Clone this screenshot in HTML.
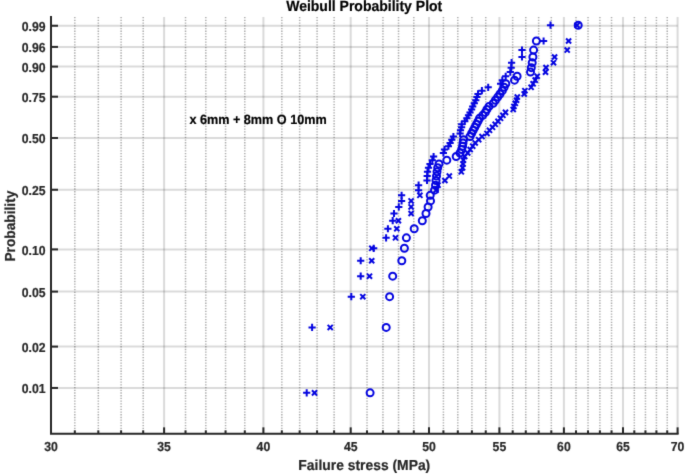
<!DOCTYPE html>
<html><head><meta charset="utf-8"><style>
html,body{margin:0;padding:0;background:#fff;}
body{width:685px;height:474px;overflow:hidden;}
svg{display:block;}
text{font-family:"Liberation Sans",sans-serif;font-weight:bold;text-rendering:geometricPrecision;}
.t{font-size:13.0px;fill:#262626;stroke:#262626;stroke-width:0.2px;}
.l{font-size:14.5px;fill:#262626;stroke:#262626;stroke-width:0.2px;}
.ti{font-size:14.9px;fill:#000;stroke:#000;stroke-width:0.2px;}
.lg{font-size:13.45px;fill:#000;stroke:#000;stroke-width:0.2px;}
</style></head><body>
<svg width="685" height="474" viewBox="0 0 685 474">
<defs><filter id="bl" x="0" y="0" width="685" height="474" filterUnits="userSpaceOnUse" color-interpolation-filters="sRGB"><feConvolveMatrix order="3" kernelMatrix="0.01134 0.08382 0.01134 0.08382 0.61935 0.08382 0.01134 0.08382 0.01134" divisor="1" edgeMode="duplicate"/></filter></defs>
<g filter="url(#bl)">
<rect width="685" height="474" fill="#fff"/>
<line x1="74.81" y1="17.0" x2="74.81" y2="433.85" stroke="rgba(38,38,38,0.38)" stroke-width="1.5" stroke-dasharray="1.3 1.42"/>
<line x1="98.32" y1="17.0" x2="98.32" y2="433.85" stroke="rgba(38,38,38,0.38)" stroke-width="1.5" stroke-dasharray="1.3 1.42"/>
<line x1="121.10" y1="17.0" x2="121.10" y2="433.85" stroke="rgba(38,38,38,0.38)" stroke-width="1.5" stroke-dasharray="1.3 1.42"/>
<line x1="143.20" y1="17.0" x2="143.20" y2="433.85" stroke="rgba(38,38,38,0.38)" stroke-width="1.5" stroke-dasharray="1.3 1.42"/>
<line x1="185.52" y1="17.0" x2="185.52" y2="433.85" stroke="rgba(38,38,38,0.38)" stroke-width="1.5" stroke-dasharray="1.3 1.42"/>
<line x1="205.81" y1="17.0" x2="205.81" y2="433.85" stroke="rgba(38,38,38,0.38)" stroke-width="1.5" stroke-dasharray="1.3 1.42"/>
<line x1="225.56" y1="17.0" x2="225.56" y2="433.85" stroke="rgba(38,38,38,0.38)" stroke-width="1.5" stroke-dasharray="1.3 1.42"/>
<line x1="244.79" y1="17.0" x2="244.79" y2="433.85" stroke="rgba(38,38,38,0.38)" stroke-width="1.5" stroke-dasharray="1.3 1.42"/>
<line x1="281.82" y1="17.0" x2="281.82" y2="433.85" stroke="rgba(38,38,38,0.38)" stroke-width="1.5" stroke-dasharray="1.3 1.42"/>
<line x1="299.66" y1="17.0" x2="299.66" y2="433.85" stroke="rgba(38,38,38,0.38)" stroke-width="1.5" stroke-dasharray="1.3 1.42"/>
<line x1="317.08" y1="17.0" x2="317.08" y2="433.85" stroke="rgba(38,38,38,0.38)" stroke-width="1.5" stroke-dasharray="1.3 1.42"/>
<line x1="334.11" y1="17.0" x2="334.11" y2="433.85" stroke="rgba(38,38,38,0.38)" stroke-width="1.5" stroke-dasharray="1.3 1.42"/>
<line x1="367.02" y1="17.0" x2="367.02" y2="433.85" stroke="rgba(38,38,38,0.38)" stroke-width="1.5" stroke-dasharray="1.3 1.42"/>
<line x1="382.94" y1="17.0" x2="382.94" y2="433.85" stroke="rgba(38,38,38,0.38)" stroke-width="1.5" stroke-dasharray="1.3 1.42"/>
<line x1="398.53" y1="17.0" x2="398.53" y2="433.85" stroke="rgba(38,38,38,0.38)" stroke-width="1.5" stroke-dasharray="1.3 1.42"/>
<line x1="413.80" y1="17.0" x2="413.80" y2="433.85" stroke="rgba(38,38,38,0.38)" stroke-width="1.5" stroke-dasharray="1.3 1.42"/>
<line x1="443.42" y1="17.0" x2="443.42" y2="433.85" stroke="rgba(38,38,38,0.38)" stroke-width="1.5" stroke-dasharray="1.3 1.42"/>
<line x1="457.80" y1="17.0" x2="457.80" y2="433.85" stroke="rgba(38,38,38,0.38)" stroke-width="1.5" stroke-dasharray="1.3 1.42"/>
<line x1="471.90" y1="17.0" x2="471.90" y2="433.85" stroke="rgba(38,38,38,0.38)" stroke-width="1.5" stroke-dasharray="1.3 1.42"/>
<line x1="485.74" y1="17.0" x2="485.74" y2="433.85" stroke="rgba(38,38,38,0.38)" stroke-width="1.5" stroke-dasharray="1.3 1.42"/>
<line x1="512.67" y1="17.0" x2="512.67" y2="433.85" stroke="rgba(38,38,38,0.38)" stroke-width="1.5" stroke-dasharray="1.3 1.42"/>
<line x1="525.77" y1="17.0" x2="525.77" y2="433.85" stroke="rgba(38,38,38,0.38)" stroke-width="1.5" stroke-dasharray="1.3 1.42"/>
<line x1="538.65" y1="17.0" x2="538.65" y2="433.85" stroke="rgba(38,38,38,0.38)" stroke-width="1.5" stroke-dasharray="1.3 1.42"/>
<line x1="551.31" y1="17.0" x2="551.31" y2="433.85" stroke="rgba(38,38,38,0.38)" stroke-width="1.5" stroke-dasharray="1.3 1.42"/>
<line x1="575.99" y1="17.0" x2="575.99" y2="433.85" stroke="rgba(38,38,38,0.38)" stroke-width="1.5" stroke-dasharray="1.3 1.42"/>
<line x1="588.03" y1="17.0" x2="588.03" y2="433.85" stroke="rgba(38,38,38,0.38)" stroke-width="1.5" stroke-dasharray="1.3 1.42"/>
<line x1="599.88" y1="17.0" x2="599.88" y2="433.85" stroke="rgba(38,38,38,0.38)" stroke-width="1.5" stroke-dasharray="1.3 1.42"/>
<line x1="611.54" y1="17.0" x2="611.54" y2="433.85" stroke="rgba(38,38,38,0.38)" stroke-width="1.5" stroke-dasharray="1.3 1.42"/>
<line x1="634.32" y1="17.0" x2="634.32" y2="433.85" stroke="rgba(38,38,38,0.38)" stroke-width="1.5" stroke-dasharray="1.3 1.42"/>
<line x1="645.45" y1="17.0" x2="645.45" y2="433.85" stroke="rgba(38,38,38,0.38)" stroke-width="1.5" stroke-dasharray="1.3 1.42"/>
<line x1="656.42" y1="17.0" x2="656.42" y2="433.85" stroke="rgba(38,38,38,0.38)" stroke-width="1.5" stroke-dasharray="1.3 1.42"/>
<line x1="667.23" y1="17.0" x2="667.23" y2="433.85" stroke="rgba(38,38,38,0.38)" stroke-width="1.5" stroke-dasharray="1.3 1.42"/>
<line x1="164.10" y1="17.0" x2="164.10" y2="433.85" stroke="rgba(38,38,38,0.17)" stroke-width="2.0"/>
<line x1="263.40" y1="17.0" x2="263.40" y2="433.85" stroke="rgba(38,38,38,0.17)" stroke-width="2.0"/>
<line x1="350.70" y1="17.0" x2="350.70" y2="433.85" stroke="rgba(38,38,38,0.17)" stroke-width="2.0"/>
<line x1="429.00" y1="17.0" x2="429.00" y2="433.85" stroke="rgba(38,38,38,0.17)" stroke-width="2.0"/>
<line x1="499.40" y1="17.0" x2="499.40" y2="433.85" stroke="rgba(38,38,38,0.17)" stroke-width="2.0"/>
<line x1="563.90" y1="17.0" x2="563.90" y2="433.85" stroke="rgba(38,38,38,0.17)" stroke-width="2.0"/>
<line x1="623.00" y1="17.0" x2="623.00" y2="433.85" stroke="rgba(38,38,38,0.17)" stroke-width="2.0"/>
<line x1="677.60" y1="17.0" x2="677.60" y2="433.85" stroke="rgba(38,38,38,0.17)" stroke-width="2.0"/>
<line x1="51.0" y1="25.75" x2="677.6" y2="25.75" stroke="rgba(38,38,38,0.17)" stroke-width="2.0"/>
<line x1="51.0" y1="46.90" x2="677.6" y2="46.90" stroke="rgba(38,38,38,0.17)" stroke-width="2.0"/>
<line x1="51.0" y1="66.60" x2="677.6" y2="66.60" stroke="rgba(38,38,38,0.17)" stroke-width="2.0"/>
<line x1="51.0" y1="96.70" x2="677.6" y2="96.70" stroke="rgba(38,38,38,0.17)" stroke-width="2.0"/>
<line x1="51.0" y1="138.00" x2="677.6" y2="138.00" stroke="rgba(38,38,38,0.17)" stroke-width="2.0"/>
<line x1="51.0" y1="189.75" x2="677.6" y2="189.75" stroke="rgba(38,38,38,0.17)" stroke-width="2.0"/>
<line x1="51.0" y1="249.40" x2="677.6" y2="249.40" stroke="rgba(38,38,38,0.17)" stroke-width="2.0"/>
<line x1="51.0" y1="291.60" x2="677.6" y2="291.60" stroke="rgba(38,38,38,0.17)" stroke-width="2.0"/>
<line x1="51.0" y1="346.60" x2="677.6" y2="346.60" stroke="rgba(38,38,38,0.17)" stroke-width="2.0"/>
<line x1="51.0" y1="387.95" x2="677.6" y2="387.95" stroke="rgba(38,38,38,0.17)" stroke-width="2.0"/>
<g stroke="#0505e0" stroke-width="2" fill="none">
<path d="M311.95 390.32L317.05 395.42M311.95 395.42L317.05 390.32"/>
<path d="M327.65 324.84L332.75 329.94M327.65 329.94L332.75 324.84"/>
<path d="M360.25 294.09L365.35 299.19M360.25 299.19L365.35 294.09"/>
<path d="M366.95 273.63L372.05 278.73M366.95 278.73L372.05 273.63"/>
<path d="M369.15 258.20L374.25 263.30M369.15 263.30L374.25 258.20"/>
<path d="M369.25 245.74L374.35 250.84M369.25 250.84L374.35 245.74"/>
<path d="M392.95 235.27L398.05 240.37M392.95 240.37L398.05 235.27"/>
<path d="M394.25 226.20L399.35 231.30M394.25 231.30L399.35 226.20"/>
<path d="M395.85 218.17L400.95 223.27M395.85 223.27L400.95 218.17"/>
<path d="M408.55 210.97L413.65 216.07M408.55 216.07L413.65 210.97"/>
<path d="M408.55 204.40L413.65 209.50M408.55 209.50L413.65 204.40"/>
<path d="M408.55 198.36L413.65 203.46M408.55 203.46L413.65 198.36"/>
<path d="M417.35 192.76L422.45 197.86M417.35 197.86L422.45 192.76"/>
<path d="M433.45 187.60L438.55 192.70M433.45 192.70L438.55 187.60"/>
<path d="M435.45 182.60L440.55 187.70M435.45 187.70L440.55 182.60"/>
<path d="M442.35 177.94L447.45 183.04M442.35 183.04L447.45 177.94"/>
<path d="M446.75 173.52L451.85 178.62M446.75 178.62L451.85 173.52"/>
<path d="M458.75 169.29L463.85 174.39M458.75 174.39L463.85 169.29"/>
<path d="M460.05 165.24L465.15 170.34M460.05 170.34L465.15 165.24"/>
<path d="M460.45 161.35L465.55 166.45M460.45 166.45L465.55 161.35"/>
<path d="M460.85 157.59L465.95 162.69M460.85 162.69L465.95 157.59"/>
<path d="M462.15 153.95L467.25 159.05M462.15 159.05L467.25 153.95"/>
<path d="M465.15 150.42L470.25 155.52M465.15 155.52L470.25 150.42"/>
<path d="M467.65 146.99L472.75 152.09M467.65 152.09L472.75 146.99"/>
<path d="M470.15 143.64L475.25 148.74M470.15 148.74L475.25 143.64"/>
<path d="M472.65 140.36L477.75 145.46M472.65 145.46L477.75 140.36"/>
<path d="M476.15 137.14L481.25 142.24M476.15 142.24L481.25 137.14"/>
<path d="M479.45 133.99L484.55 139.09M479.45 139.09L484.55 133.99"/>
<path d="M484.45 130.88L489.55 135.98M484.45 135.98L489.55 130.88"/>
<path d="M486.95 127.81L492.05 132.91M486.95 132.91L492.05 127.81"/>
<path d="M489.95 124.77L495.05 129.87M489.95 129.87L495.05 124.77"/>
<path d="M492.65 121.76L497.75 126.86M492.65 126.86L497.75 121.76"/>
<path d="M495.45 118.77L500.55 123.87M495.45 123.87L500.55 118.77"/>
<path d="M497.95 115.79L503.05 120.89M497.95 120.89L503.05 115.79"/>
<path d="M500.35 112.81L505.45 117.91M500.35 117.91L505.45 112.81"/>
<path d="M502.95 109.83L508.05 114.93M502.95 114.93L508.05 109.83"/>
<path d="M510.65 106.85L515.75 111.95M510.65 111.95L515.75 106.85"/>
<path d="M511.35 103.84L516.45 108.94M511.35 108.94L516.45 103.84"/>
<path d="M512.75 100.80L517.85 105.90M512.75 105.90L517.85 100.80"/>
<path d="M514.05 97.72L519.15 102.82M514.05 102.82L519.15 97.72"/>
<path d="M514.75 94.55L519.85 99.65M514.75 99.65L519.85 94.55"/>
<path d="M521.65 91.40L526.75 96.50M521.65 96.50L526.75 91.40"/>
<path d="M522.35 88.13L527.45 93.23M522.35 93.23L527.45 88.13"/>
<path d="M528.55 84.75L533.65 89.85M528.55 89.85L533.65 84.75"/>
<path d="M530.55 81.25L535.65 86.35M530.55 86.35L535.65 81.25"/>
<path d="M532.65 77.58L537.75 82.68M532.65 82.68L537.75 77.58"/>
<path d="M534.65 73.71L539.75 78.81M534.65 78.81L539.75 73.71"/>
<path d="M542.95 69.57L548.05 74.67M542.95 74.67L548.05 69.57"/>
<path d="M543.45 65.08L548.55 70.18M543.45 70.18L548.55 65.08"/>
<path d="M550.95 60.11L556.05 65.21M550.95 65.21L556.05 60.11"/>
<path d="M552.05 54.42L557.15 59.52M552.05 59.52L557.15 54.42"/>
<path d="M564.65 47.56L569.75 52.66M564.65 52.66L569.75 47.56"/>
<path d="M566.05 38.47L571.15 43.57M566.05 43.57L571.15 38.47"/>
<path d="M574.45 22.67L579.55 27.77M574.45 27.77L579.55 22.67"/>
<path d="M303.10 392.87H310.30M306.70 389.27V396.47"/>
<path d="M308.50 327.39H315.70M312.10 323.79V330.99"/>
<path d="M347.70 296.64H354.90M351.30 293.04V300.24"/>
<path d="M357.10 276.18H364.30M360.70 272.58V279.78"/>
<path d="M357.10 260.75H364.30M360.70 257.15V264.35"/>
<path d="M370.10 248.29H377.30M373.70 244.69V251.89"/>
<path d="M382.50 237.82H389.70M386.10 234.22V241.42"/>
<path d="M384.30 228.75H391.50M387.90 225.15V232.35"/>
<path d="M389.10 220.72H396.30M392.70 217.12V224.32"/>
<path d="M390.40 213.52H397.60M394.00 209.92V217.12"/>
<path d="M395.20 206.95H402.40M398.80 203.35V210.55"/>
<path d="M398.00 200.91H405.20M401.60 197.31V204.51"/>
<path d="M398.00 195.31H405.20M401.60 191.71V198.91"/>
<path d="M415.00 190.15H422.20M418.60 186.55V193.75"/>
<path d="M415.00 185.15H422.20M418.60 181.55V188.75"/>
<path d="M423.40 180.49H430.60M427.00 176.89V184.09"/>
<path d="M423.60 176.07H430.80M427.20 172.47V179.67"/>
<path d="M423.90 171.84H431.10M427.50 168.24V175.44"/>
<path d="M424.90 167.79H432.10M428.50 164.19V171.39"/>
<path d="M426.40 163.90H433.60M430.00 160.30V167.50"/>
<path d="M428.70 160.14H435.90M432.30 156.54V163.74"/>
<path d="M430.00 156.50H437.20M433.60 152.90V160.10"/>
<path d="M439.80 152.97H447.00M443.40 149.37V156.57"/>
<path d="M440.90 149.54H448.10M444.50 145.94V153.14"/>
<path d="M444.80 146.19H452.00M448.40 142.59V149.79"/>
<path d="M446.50 142.91H453.70M450.10 139.31V146.51"/>
<path d="M448.20 139.69H455.40M451.80 136.09V143.29"/>
<path d="M449.80 136.54H457.00M453.40 132.94V140.14"/>
<path d="M456.50 133.43H463.70M460.10 129.83V137.03"/>
<path d="M456.90 130.36H464.10M460.50 126.76V133.96"/>
<path d="M458.00 127.32H465.20M461.60 123.72V130.92"/>
<path d="M458.10 124.31H465.30M461.70 120.71V127.91"/>
<path d="M461.20 121.32H468.40M464.80 117.72V124.92"/>
<path d="M463.30 118.34H470.50M466.90 114.74V121.94"/>
<path d="M464.90 115.36H472.10M468.50 111.76V118.96"/>
<path d="M466.40 112.38H473.60M470.00 108.78V115.98"/>
<path d="M468.00 109.40H475.20M471.60 105.80V113.00"/>
<path d="M469.10 106.39H476.30M472.70 102.79V109.99"/>
<path d="M470.70 103.35H477.90M474.30 99.75V106.95"/>
<path d="M472.20 100.27H479.40M475.80 96.67V103.87"/>
<path d="M473.30 97.10H480.50M476.90 93.50V100.70"/>
<path d="M474.40 93.95H481.60M478.00 90.35V97.55"/>
<path d="M478.30 90.68H485.50M481.90 87.08V94.28"/>
<path d="M484.60 87.30H491.80M488.20 83.70V90.90"/>
<path d="M497.00 83.80H504.20M500.60 80.20V87.40"/>
<path d="M498.70 80.13H505.90M502.30 76.53V83.73"/>
<path d="M502.10 76.26H509.30M505.70 72.66V79.86"/>
<path d="M506.70 72.12H513.90M510.30 68.52V75.72"/>
<path d="M507.60 67.63H514.80M511.20 64.03V71.23"/>
<path d="M508.00 62.66H515.20M511.60 59.06V66.26"/>
<path d="M518.40 56.97H525.60M522.00 53.37V60.57"/>
<path d="M518.40 50.11H525.60M522.00 46.51V53.71"/>
<path d="M540.00 41.02H547.20M543.60 37.42V44.62"/>
<path d="M546.90 25.22H554.10M550.50 21.62V28.82"/>
<circle cx="370.10" cy="392.87" r="3.5"/>
<circle cx="386.20" cy="327.39" r="3.5"/>
<circle cx="389.60" cy="296.64" r="3.5"/>
<circle cx="392.70" cy="276.18" r="3.5"/>
<circle cx="401.80" cy="260.75" r="3.5"/>
<circle cx="404.40" cy="248.29" r="3.5"/>
<circle cx="406.40" cy="237.82" r="3.5"/>
<circle cx="414.20" cy="228.75" r="3.5"/>
<circle cx="422.30" cy="220.72" r="3.5"/>
<circle cx="426.00" cy="213.52" r="3.5"/>
<circle cx="428.10" cy="206.95" r="3.5"/>
<circle cx="430.50" cy="200.91" r="3.5"/>
<circle cx="430.20" cy="195.31" r="3.5"/>
<circle cx="434.50" cy="190.15" r="3.5"/>
<circle cx="435.50" cy="185.15" r="3.5"/>
<circle cx="436.00" cy="180.49" r="3.5"/>
<circle cx="436.50" cy="176.07" r="3.5"/>
<circle cx="437.00" cy="171.84" r="3.5"/>
<circle cx="437.70" cy="167.79" r="3.5"/>
<circle cx="439.00" cy="163.90" r="3.5"/>
<circle cx="446.80" cy="160.14" r="3.5"/>
<circle cx="456.20" cy="156.50" r="3.5"/>
<circle cx="460.00" cy="152.97" r="3.5"/>
<circle cx="461.70" cy="149.54" r="3.5"/>
<circle cx="462.60" cy="146.19" r="3.5"/>
<circle cx="463.00" cy="142.91" r="3.5"/>
<circle cx="463.50" cy="139.69" r="3.5"/>
<circle cx="470.00" cy="136.54" r="3.5"/>
<circle cx="471.60" cy="133.43" r="3.5"/>
<circle cx="473.20" cy="130.36" r="3.5"/>
<circle cx="474.80" cy="127.32" r="3.5"/>
<circle cx="476.40" cy="124.31" r="3.5"/>
<circle cx="478.00" cy="121.32" r="3.5"/>
<circle cx="479.50" cy="118.34" r="3.5"/>
<circle cx="482.70" cy="115.36" r="3.5"/>
<circle cx="485.30" cy="112.38" r="3.5"/>
<circle cx="486.90" cy="109.40" r="3.5"/>
<circle cx="489.00" cy="106.39" r="3.5"/>
<circle cx="493.20" cy="103.35" r="3.5"/>
<circle cx="495.40" cy="100.27" r="3.5"/>
<circle cx="497.70" cy="97.10" r="3.5"/>
<circle cx="500.00" cy="93.95" r="3.5"/>
<circle cx="502.30" cy="90.68" r="3.5"/>
<circle cx="504.10" cy="87.30" r="3.5"/>
<circle cx="505.80" cy="83.80" r="3.5"/>
<circle cx="514.50" cy="80.13" r="3.5"/>
<circle cx="517.10" cy="76.26" r="3.5"/>
<circle cx="530.50" cy="72.12" r="3.5"/>
<circle cx="531.30" cy="67.63" r="3.5"/>
<circle cx="532.20" cy="62.66" r="3.5"/>
<circle cx="532.90" cy="56.97" r="3.5"/>
<circle cx="533.60" cy="50.11" r="3.5"/>
<circle cx="536.40" cy="41.02" r="3.5"/>
<circle cx="578.20" cy="25.22" r="3.5"/>
</g>
<path d="M51.0 17.0V433.85H677.6" stroke="#262626" stroke-width="2" fill="none" stroke-linecap="square"/>
<line x1="51.0" y1="25.75" x2="58.0" y2="25.75" stroke="#262626" stroke-width="2"/>
<line x1="51.0" y1="46.90" x2="58.0" y2="46.90" stroke="#262626" stroke-width="2"/>
<line x1="51.0" y1="66.60" x2="58.0" y2="66.60" stroke="#262626" stroke-width="2"/>
<line x1="51.0" y1="96.70" x2="58.0" y2="96.70" stroke="#262626" stroke-width="2"/>
<line x1="51.0" y1="138.00" x2="58.0" y2="138.00" stroke="#262626" stroke-width="2"/>
<line x1="51.0" y1="189.75" x2="58.0" y2="189.75" stroke="#262626" stroke-width="2"/>
<line x1="51.0" y1="249.40" x2="58.0" y2="249.40" stroke="#262626" stroke-width="2"/>
<line x1="51.0" y1="291.60" x2="58.0" y2="291.60" stroke="#262626" stroke-width="2"/>
<line x1="51.0" y1="346.60" x2="58.0" y2="346.60" stroke="#262626" stroke-width="2"/>
<line x1="51.0" y1="387.95" x2="58.0" y2="387.95" stroke="#262626" stroke-width="2"/>
<line x1="74.81" y1="433.85" x2="74.81" y2="430.35" stroke="#262626" stroke-width="2"/>
<line x1="98.32" y1="433.85" x2="98.32" y2="430.35" stroke="#262626" stroke-width="2"/>
<line x1="121.10" y1="433.85" x2="121.10" y2="430.35" stroke="#262626" stroke-width="2"/>
<line x1="143.20" y1="433.85" x2="143.20" y2="430.35" stroke="#262626" stroke-width="2"/>
<line x1="164.10" y1="433.85" x2="164.10" y2="427.35" stroke="#262626" stroke-width="2"/>
<line x1="185.52" y1="433.85" x2="185.52" y2="430.35" stroke="#262626" stroke-width="2"/>
<line x1="205.81" y1="433.85" x2="205.81" y2="430.35" stroke="#262626" stroke-width="2"/>
<line x1="225.56" y1="433.85" x2="225.56" y2="430.35" stroke="#262626" stroke-width="2"/>
<line x1="244.79" y1="433.85" x2="244.79" y2="430.35" stroke="#262626" stroke-width="2"/>
<line x1="263.40" y1="433.85" x2="263.40" y2="427.35" stroke="#262626" stroke-width="2"/>
<line x1="281.82" y1="433.85" x2="281.82" y2="430.35" stroke="#262626" stroke-width="2"/>
<line x1="299.66" y1="433.85" x2="299.66" y2="430.35" stroke="#262626" stroke-width="2"/>
<line x1="317.08" y1="433.85" x2="317.08" y2="430.35" stroke="#262626" stroke-width="2"/>
<line x1="334.11" y1="433.85" x2="334.11" y2="430.35" stroke="#262626" stroke-width="2"/>
<line x1="350.70" y1="433.85" x2="350.70" y2="427.35" stroke="#262626" stroke-width="2"/>
<line x1="367.02" y1="433.85" x2="367.02" y2="430.35" stroke="#262626" stroke-width="2"/>
<line x1="382.94" y1="433.85" x2="382.94" y2="430.35" stroke="#262626" stroke-width="2"/>
<line x1="398.53" y1="433.85" x2="398.53" y2="430.35" stroke="#262626" stroke-width="2"/>
<line x1="413.80" y1="433.85" x2="413.80" y2="430.35" stroke="#262626" stroke-width="2"/>
<line x1="429.00" y1="433.85" x2="429.00" y2="427.35" stroke="#262626" stroke-width="2"/>
<line x1="443.42" y1="433.85" x2="443.42" y2="430.35" stroke="#262626" stroke-width="2"/>
<line x1="457.80" y1="433.85" x2="457.80" y2="430.35" stroke="#262626" stroke-width="2"/>
<line x1="471.90" y1="433.85" x2="471.90" y2="430.35" stroke="#262626" stroke-width="2"/>
<line x1="485.74" y1="433.85" x2="485.74" y2="430.35" stroke="#262626" stroke-width="2"/>
<line x1="499.40" y1="433.85" x2="499.40" y2="427.35" stroke="#262626" stroke-width="2"/>
<line x1="512.67" y1="433.85" x2="512.67" y2="430.35" stroke="#262626" stroke-width="2"/>
<line x1="525.77" y1="433.85" x2="525.77" y2="430.35" stroke="#262626" stroke-width="2"/>
<line x1="538.65" y1="433.85" x2="538.65" y2="430.35" stroke="#262626" stroke-width="2"/>
<line x1="551.31" y1="433.85" x2="551.31" y2="430.35" stroke="#262626" stroke-width="2"/>
<line x1="563.90" y1="433.85" x2="563.90" y2="427.35" stroke="#262626" stroke-width="2"/>
<line x1="575.99" y1="433.85" x2="575.99" y2="430.35" stroke="#262626" stroke-width="2"/>
<line x1="588.03" y1="433.85" x2="588.03" y2="430.35" stroke="#262626" stroke-width="2"/>
<line x1="599.88" y1="433.85" x2="599.88" y2="430.35" stroke="#262626" stroke-width="2"/>
<line x1="611.54" y1="433.85" x2="611.54" y2="430.35" stroke="#262626" stroke-width="2"/>
<line x1="623.00" y1="433.85" x2="623.00" y2="427.35" stroke="#262626" stroke-width="2"/>
<line x1="634.32" y1="433.85" x2="634.32" y2="430.35" stroke="#262626" stroke-width="2"/>
<line x1="645.45" y1="433.85" x2="645.45" y2="430.35" stroke="#262626" stroke-width="2"/>
<line x1="656.42" y1="433.85" x2="656.42" y2="430.35" stroke="#262626" stroke-width="2"/>
<line x1="667.23" y1="433.85" x2="667.23" y2="430.35" stroke="#262626" stroke-width="2"/>
<line x1="677.60" y1="433.85" x2="677.60" y2="427.35" stroke="#262626" stroke-width="2"/>
<text transform="translate(45.60 30.85) scale(0.94 1)" text-anchor="end" class="t">0.99</text>
<text transform="translate(45.60 52.00) scale(0.94 1)" text-anchor="end" class="t">0.96</text>
<text transform="translate(45.60 71.70) scale(0.94 1)" text-anchor="end" class="t">0.90</text>
<text transform="translate(45.60 101.80) scale(0.94 1)" text-anchor="end" class="t">0.75</text>
<text transform="translate(45.60 143.10) scale(0.94 1)" text-anchor="end" class="t">0.50</text>
<text transform="translate(45.60 194.85) scale(0.94 1)" text-anchor="end" class="t">0.25</text>
<text transform="translate(45.60 254.50) scale(0.94 1)" text-anchor="end" class="t">0.10</text>
<text transform="translate(45.60 296.70) scale(0.94 1)" text-anchor="end" class="t">0.05</text>
<text transform="translate(45.60 351.70) scale(0.94 1)" text-anchor="end" class="t">0.02</text>
<text transform="translate(45.60 393.05) scale(0.94 1)" text-anchor="end" class="t">0.01</text>
<text transform="translate(51.00 450.60) scale(0.94 1)" text-anchor="middle" class="t">30</text>
<text transform="translate(164.10 450.60) scale(0.94 1)" text-anchor="middle" class="t">35</text>
<text transform="translate(263.40 450.60) scale(0.94 1)" text-anchor="middle" class="t">40</text>
<text transform="translate(350.70 450.60) scale(0.94 1)" text-anchor="middle" class="t">45</text>
<text transform="translate(429.00 450.60) scale(0.94 1)" text-anchor="middle" class="t">50</text>
<text transform="translate(499.40 450.60) scale(0.94 1)" text-anchor="middle" class="t">55</text>
<text transform="translate(563.90 450.60) scale(0.94 1)" text-anchor="middle" class="t">60</text>
<text transform="translate(623.00 450.60) scale(0.94 1)" text-anchor="middle" class="t">65</text>
<text transform="translate(677.60 450.60) scale(0.94 1)" text-anchor="middle" class="t">70</text>
<text transform="translate(364.30 469.50) scale(0.957 1)" text-anchor="middle" class="l">Failure stress (MPa)</text>
<text transform="translate(15.30 226.10) rotate(-90) scale(0.946 1)" text-anchor="middle" class="l">Probability</text>
<text transform="translate(364.20 10.90) scale(0.94 1)" text-anchor="middle" class="ti">Weibull Probability Plot</text>
<text transform="translate(189.40 124.20) scale(0.94 1)" text-anchor="start" class="lg">x 6mm + 8mm O 10mm</text>
</g>
</svg>
</body></html>
